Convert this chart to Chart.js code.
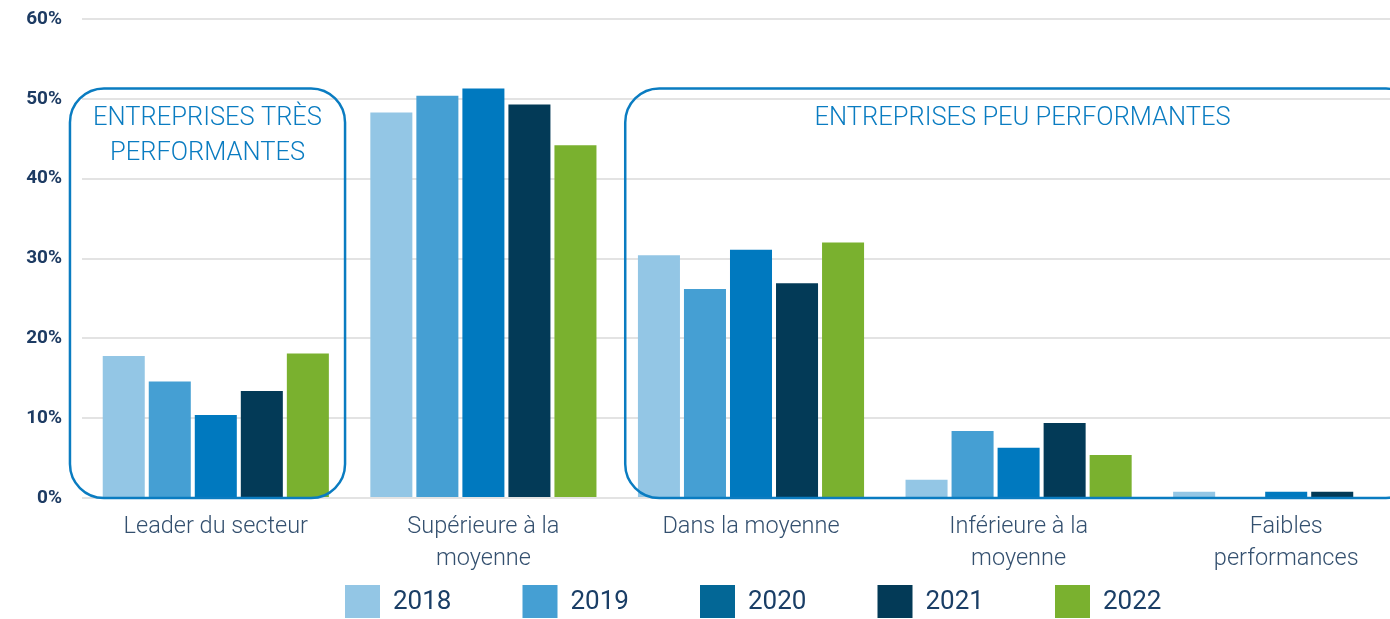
<!DOCTYPE html>
<html>
<head>
<meta charset="utf-8">
<script src="https://cdn.jsdelivr.net/npm/chart.js@4/dist/chart.umd.min.js"></script>
<style>
  html, body { margin: 0; padding: 0; background: #fff; overflow: hidden; }
  /* le graphique d'origine déborde à droite de l'image : toile un peu plus large que la fenêtre */
  #wrap { width: 1420px; height: 619px; }
</style>
</head>
<body>
<div id="wrap"><canvas id="perfChart"></canvas></div>
<script>
// Données (en %)
const categories = [
    ['Leader du secteur'],
    ['Supérieure à la', 'moyenne'],
    ['Dans la moyenne'],
    ['Inférieure à la', 'moyenne'],
    ['Faibles', 'performances']
];
const years = ['2018', '2019', '2020', '2021', '2022'];
const values2018 = [17.8, 48.3, 30.4, 2.3, 0.8];
const values2019 = [14.6, 50.4, 26.2, 8.4, 0];
const values2020 = [10.4, 51.3, 31.1, 6.3, 0.8];
const values2021 = [13.4, 49.3, 26.9, 9.4, 0.8];
const values2022 = [18.1, 44.2, 32.0, 5.4, 0];
const yTicks = [0, 10, 20, 30, 40, 50, 60];

// Encadrés : étendue en index de catégorie, hauteur en %
const groupLabels = [['ENTREPRISES TRÈS', 'PERFORMANTES'], ['ENTREPRISES PEU PERFORMANTES']];
const groupFrom = [-0.545, 1.53];
const groupTo = [0.483, 4.5];
const groupTop = [51.3, 51.3];

const colors = ['#93c6e5', '#459fd3', '#0079bf', '#033a57', '#7ab12f'];
const legendColors = ['#93c6e5', '#459fd3', '#036796', '#033a57', '#7ab12f'];
const allValues = [values2018, values2019, values2020, values2021, values2022];

const groupBoxes = {
    id: 'groupBoxes',
    afterDatasetsDraw(chart) {
        const ctx = chart.ctx;
        const x = chart.scales.x;
        const y = chart.scales.y;
        ctx.save();
        for (let i = 0; i < groupLabels.length; i++) {
            const left = x.getPixelForValue(groupFrom[i]);
            const right = x.getPixelForValue(groupTo[i]);
            const top = y.getPixelForValue(groupTop[i]);
            const bottom = y.getPixelForValue(0);
            ctx.beginPath();
            ctx.roundRect(left, top, right - left, bottom - top, 34);
            ctx.lineWidth = 2.5;
            ctx.strokeStyle = '#0a7cc1';
            ctx.stroke();

            ctx.fillStyle = '#0a7cc1';
            ctx.font = '300 25.5px Roboto';
            ctx.textAlign = 'center';
            ctx.textBaseline = 'middle';
            const cx = (left + right) / 2;
            groupLabels[i].forEach((line, k) => {
                ctx.fillText(line, cx, top + 30 + k * 35);
            });
        }
        ctx.restore();
    }
};

// Légende dessinée à la main (carrés larges + grand espacement)
const bottomLegend = {
    id: 'bottomLegend',
    afterDraw(chart) {
        const ctx = chart.ctx;
        const boxW = 35, boxH = 33, step = 177.5;
        const top = chart.height - boxH - 1;
        let x = chart.chartArea.left + 263;
        ctx.save();
        ctx.font = '26px Roboto';
        ctx.textAlign = 'left';
        ctx.textBaseline = 'middle';
        years.forEach((yr, i) => {
            ctx.fillStyle = legendColors[i];
            ctx.fillRect(x, top, boxW, boxH);
            ctx.fillStyle = '#1a3e66';
            ctx.fillText(yr, x + boxW + 13, top + boxH / 2 + 1);
            x += step;
        });
        ctx.restore();
    }
};

new Chart(document.getElementById('perfChart'), {
    type: 'bar',
    data: {
        labels: categories,
        datasets: years.map((yr, i) => ({
            label: yr,
            data: allValues[i],
            backgroundColor: colors[i],
            borderWidth: 0,
            categoryPercentage: 0.86,
            barPercentage: 0.913
        }))
    },
    options: {
        responsive: true,
        maintainAspectRatio: false,
        animation: false,
        layout: { padding: { top: 19, right: 0, left: 2, bottom: 39 } },
        scales: {
            x: {
                grid: { display: false },
                border: { display: false },
                ticks: {
                    color: '#34506f',
                    font: { family: 'Roboto', size: 23.5, weight: '300', lineHeight: 1.36 },
                    padding: 5,
                    maxRotation: 0
                }
            },
            y: {
                min: 0,
                max: 60,
                afterBuildTicks: s => { s.ticks = yTicks.map(v => ({ value: v })); },
                afterFit: s => { s.width = 80; s.paddingTop = 0; s.paddingBottom = 0; },
                grid: { color: '#e3e3e3', lineWidth: 2, drawTicks: false },
                border: { display: false },
                ticks: {
                    color: '#1d3b63',
                    font: { family: 'Roboto', size: 19, weight: 'bold' },
                    padding: 20,
                    callback: v => v + '%'
                }
            }
        },
        plugins: {
            tooltip: { enabled: false },
            legend: { display: false }
        }
    },
    plugins: [groupBoxes, bottomLegend]
});
</script>
</body>
</html>
